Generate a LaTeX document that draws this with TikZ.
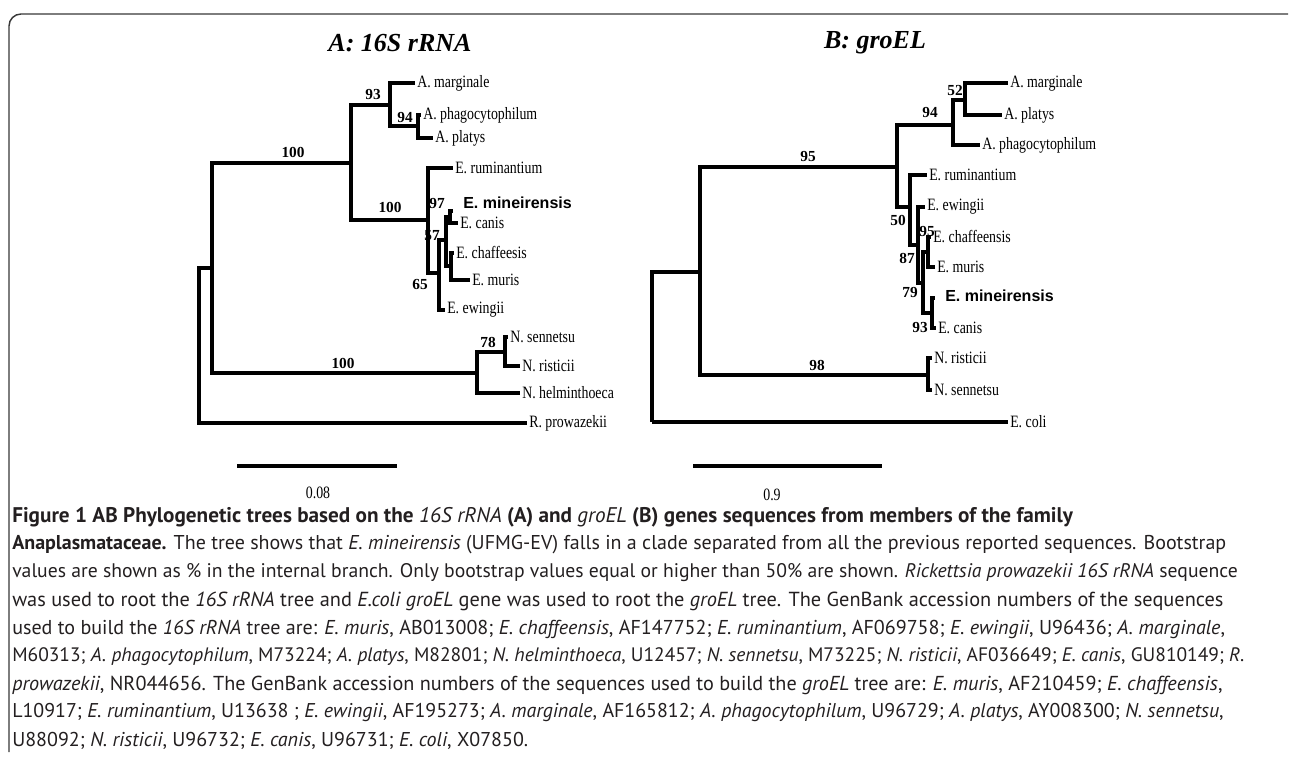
\documentclass[tikz,border=0pt]{standalone}
\usepackage{fontspec}
\setmainfont{Liberation Serif}
\newfontfamily\treefont[FakeStretch=0.8]{Liberation Serif}
\newfontfamily\minefont{Liberation Sans}
\newfontfamily\capfont{PT Sans}
\usepackage{tikz}
\usetikzlibrary{positioning}
\definecolor{cFrame}{RGB}{55,55,55}
\definecolor{cText}{RGB}{35,31,32}

\begin{document}
\begin{tikzpicture}[x=0.75pt,y=-0.75pt,
   br/.style={line width=2.4pt},
   thickbr/.style={line width=3.3pt},
   leaf/.style={anchor=west,inner sep=1.5pt,font=\treefont\fontsize{13}{14}\selectfont},
   mine/.style={anchor=west,inner sep=0pt,font=\minefont\bfseries\fontsize{12}{14}\selectfont},
   boot/.style={inner sep=0pt,font=\bfseries\fontsize{11.5}{13}\selectfont},
   ttl/.style={inner sep=0pt,font=\bfseries\itshape\fontsize{19.5}{22}\selectfont},
   capline/.style={anchor=west,inner sep=0pt,text=cText,font=\capfont\fontsize{#1}{18}\selectfont}]
 \useasboundingbox (0,0) rectangle (1290,759);
 % frame
 \draw[cFrame,line width=1.1pt,rounded corners=9] (9,752) -- (9,14) -- (1288,14);
 % titles
 \node[ttl] (ttlA) at (400,43) {A: 16S rRNA};
 \node[ttl] (ttlB) at (875,43) {B: groEL};
 % tree A: branch points and tips
 \coordinate (rA) at (199,345);
 \coordinate (nA1) at (212,268);
 \coordinate (tRpro) at (527,423);
 \coordinate (nAE) at (351,163);
 \coordinate (nN) at (477,373);
 \coordinate (nAna) at (390,105);
 \coordinate (nEhr) at (428,220);
 \coordinate (tAmar) at (415,83);
 \coordinate (nAp) at (418,126);
 \coordinate (tApha) at (421,115);
 \coordinate (tApla) at (433,138);
 \coordinate (tErum) at (453,168);
 \coordinate (n65) at (439,273);
 \coordinate (tEewi) at (445,310);
 \coordinate (n57) at (446,240);
 \coordinate (n97) at (450,217);
 \coordinate (nCM) at (451,266);
 \coordinate (tEmin) at (453,211);
 \coordinate (tEcan) at (458,223);
 \coordinate (tEcha) at (454,253);
 \coordinate (tEmur) at (470,280);
 \coordinate (nSR) at (505,352);
 \coordinate (tNhel) at (520,393);
 \coordinate (tNsen) at (508,337);
 \coordinate (tNris) at (520,366);
 \foreach \p/\c in {rA/nA1,rA/tRpro,nA1/nAE,nA1/nN,nAE/nAna,nAE/nEhr,
   nAna/tAmar,nAna/nAp,nAp/tApha,nAp/tApla,nEhr/tErum,nEhr/n65,
   n65/n57,n65/tEewi,n57/n97,n57/nCM,n97/tEmin,n97/tEcan,
   nCM/tEcha,nCM/tEmur,nN/nSR,nN/tNhel,nSR/tNsen,nSR/tNris}
   \draw[br] (\p) |- (\c);
 \foreach \t/\txt in {tAmar/A. marginale,tApha/A. phagocytophilum,tApla/A. platys,
   tErum/E. ruminantium,tEcan/E. canis,tEcha/E. chaffeesis,tEmur/E. muris,
   tEewi/E. ewingii,tNsen/N. sennetsu,tNris/N. risticii,tNhel/N. helminthoeca,
   tRpro/R. prowazekii}
   \node[leaf] (l\t) at (\t) {\txt};
 \node[mine] (lEminA) at (463,203) {E. mineirensis};
 % bootstrap values A
 \node[boot] (bA93) at (373,95) {93};
 \node[boot] (bA94) at (405,118) {94};
 \node[boot] (bA100a) at (293,152) {100};
 \node[boot] (bA100b) at (390,207) {100};
 \node[boot] (bA97) at (437,204) {97};
 \node[boot] (bA57) at (432,236) {57};
 \node[boot] (bA65) at (420,285) {65};
 \node[boot] (bA78) at (488,342) {78};
 \node[boot] (bA100c) at (343,363) {100};
 % tree B: branch points and tips
 \coordinate (rB) at (652,347);
 \coordinate (nB1) at (700,272);
 \coordinate (tBcol) at (1008,422);
 \coordinate (nAEb) at (897,167);
 \coordinate (nNb) at (928,375);
 \coordinate (nAnab) at (953,125);
 \coordinate (nMP) at (965,100);
 \coordinate (tBmar) at (1008,83);
 \coordinate (tBpla) at (1002,115);
 \coordinate (tBpha) at (980,145);
 \coordinate (nB50) at (910,207);
 \coordinate (tBrum) at (927,175);
 \coordinate (nB87) at (918,245);
 \coordinate (tBewi) at (925,207);
 \coordinate (nB79) at (923,283);
 \coordinate (nB95) at (928,252);
 \coordinate (nB93) at (932,313);
 \coordinate (tBcha) at (931,237);
 \coordinate (tBmur) at (935,267);
 \coordinate (tBmin) at (935,298);
 \coordinate (tBcan) at (936,328);
 \coordinate (tBris) at (932,358);
 \coordinate (tBsen) at (932,390);
 \coordinate (kBcol) at (652,422);
 \foreach \p/\c in {rB/nB1,rB/kBcol,nB1/nAEb,nB1/nNb,nAEb/nAnab,nAEb/nB50,
   nAnab/nMP,nAnab/tBpha,nMP/tBmar,nMP/tBpla,nB50/tBrum,nB50/nB87,
   nB87/tBewi,nB87/nB79,nB79/nB95,nB79/nB93,nB95/tBcha,nB95/tBmur,
   nB93/tBmin,nB93/tBcan,nNb/tBris,nNb/tBsen}
   \draw[br] (\p) |- (\c);
 \draw[thickbr] (kBcol) -- (tBcol);
 \foreach \t/\txt in {tBmar/A. marginale,tBpla/A. platys,tBpha/A. phagocytophilum,
   tBrum/E. ruminantium,tBewi/E. ewingii,tBcha/E. chaffeensis,tBmur/E. muris,
   tBcan/E. canis,tBris/N. risticii,tBsen/N. sennetsu,tBcol/E. coli}
   \node[leaf] (l\t) at (\t) {\txt};
 \node[mine] (lEminB) at (945,296) {E. mineirensis};
 % bootstrap values B
 \node[boot] (bB52) at (955,91) {52};
 \node[boot] (bB94) at (930,113) {94};
 \node[boot] (bB95a) at (808,157) {95};
 \node[boot] (bB50) at (898,220) {50};
 \node[boot] (bB95b) at (927,232) {95};
 \node[boot] (bB87) at (907,258) {87};
 \node[boot] (bB79) at (910,293) {79};
 \node[boot] (bB93) at (920,328) {93};
 \node[boot] (bB98) at (817,365) {98};
 % scale bars
 \coordinate (sA1) at (237,466);
 \coordinate (sA2) at (397,466);
 \coordinate (sB1) at (693,466);
 \coordinate (sB2) at (882,466);
 \draw[br] (sA1) -- (sA2);
 \draw[br] (sB1) -- (sB2);
 \node[leaf,anchor=center] (sAl) at (318,493) {0.08};
 \node[leaf,anchor=center] (sBl) at (772,495) {0.9};
 % caption
 \node[capline=15.9] (c1) at (12,517) {\bfseries Figure 1 AB Phylogenetic trees based on the {\mdseries\itshape 16S rRNA} (A) and {\mdseries\itshape groEL} (B) genes sequences from members of the family};
 \node[capline=15] (c2) at (12,545) {{\bfseries Anaplasmataceae.} The tree shows that \textit{E. mineirensis} (UFMG-EV) falls in a clade separated from all the previous reported sequences. Bootstrap};
 \node[capline=14.75] (c3) at (12,573) {values are shown as \% in the internal branch. Only bootstrap values equal or higher than 50\% are shown. \textit{Rickettsia prowazekii 16S rRNA} sequence};
 \node[capline=15.25] (c4) at (12,601) {was used to root the \textit{16S rRNA} tree and \textit{E.coli groEL} gene was used to root the \textit{groEL} tree. The GenBank accession numbers of the sequences};
 \node[capline=15.05] (c5) at (12,629) {used to build the \textit{16S rRNA} tree are: \textit{E. muris}, AB013008; \textit{E. chaffeensis}, AF147752; \textit{E. ruminantium}, AF069758; \textit{E. ewingii}, U96436; \textit{A. marginale},};
 \node[capline=14.6] (c6) at (12,657) {M60313; \textit{A. phagocytophilum}, M73224; \textit{A. platys}, M82801; \textit{N. helminthoeca}, U12457; \textit{N. sennetsu}, M73225; \textit{N. risticii}, AF036649; \textit{E. canis}, GU810149; \textit{R.}};
 \node[capline=15.15] (c7) at (12,685) {\textit{prowazekii}, NR044656. The GenBank accession numbers of the sequences used to build the \textit{groEL} tree are: \textit{E. muris}, AF210459; \textit{E. chaffeensis},};
 \node[capline=14.95] (c8) at (12,713) {L10917; \textit{E. ruminantium}, U13638 ; \textit{E. ewingii}, AF195273; \textit{A. marginale}, AF165812; \textit{A. phagocytophilum}, U96729; \textit{A. platys}, AY008300; \textit{N. sennetsu},};
 \node[capline=15] (c9) at (12,741) {U88092; \textit{N. risticii}, U96732; \textit{E. canis}, U96731; \textit{E. coli}, X07850.};
\end{tikzpicture}
\end{document}
